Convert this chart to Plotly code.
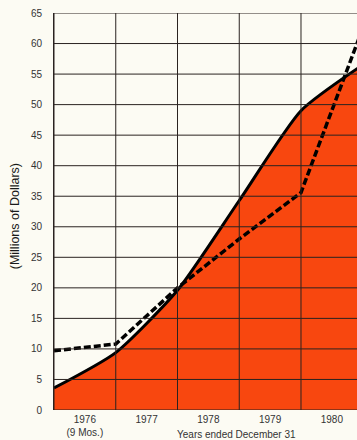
import plotly.graph_objects as go

# Year-end positions (0 = start of 1976 period, 1..5 = Dec 31 of 1976..1980)
year_ends = [0, 1, 2, 3, 4, 5]
revenue = [3.6, 9.4, 19.6, 34.3, 49.0, 56.5]       # solid line, filled area
comparison = [9.7, 10.8, 20.0, 28.0, 35.6, 62.5]   # dashed line

year_labels = ["1976<br>(9 Mos.)", "1977", "1978", "1979", "1980"]
label_pos = [0.5, 1.5, 2.5, 3.5, 4.5]
y_ticks = list(range(0, 70, 5))

FILL = "#F8470F"
BG = "#FCFBF3"
GRID = "#2a2320"
FONT = "Liberation Sans, Arial, sans-serif"

fig = go.Figure()

fig.add_trace(go.Scatter(
    x=year_ends, y=revenue, mode="lines",
    line=dict(color="black", width=3, shape="spline", smoothing=0.6),
    fill="tozeroy", fillcolor=FILL, hoverinfo="skip", showlegend=False,
))
fig.add_trace(go.Scatter(
    x=year_ends, y=comparison, mode="lines",
    line=dict(color="black", width=3.5, dash="7px,3px"),
    hoverinfo="skip", showlegend=False,
))

# grid drawn on top of the filled area
shapes = []
for v in y_ticks:
    shapes.append(dict(type="line", xref="x", yref="y", x0=0, x1=6, y0=v, y1=v,
                       line=dict(color=GRID, width=1), layer="above"))
for xv in year_ends:
    shapes.append(dict(type="line", xref="x", yref="y", x0=xv, x1=xv, y0=0, y1=65,
                       line=dict(color=GRID, width=1), layer="above"))

fig.update_layout(
    width=357, height=440,
    margin=dict(l=54, r=0, t=13, b=30),
    paper_bgcolor=BG, plot_bgcolor=BG,
    shapes=shapes,
    xaxis=dict(range=[0, 4.907], showgrid=False, zeroline=False,
               tickvals=label_pos, ticktext=year_labels, ticks="",
               tickfont=dict(family=FONT, size=10, color="#333"),
               ticklabelstandoff=2, showline=False),
    yaxis=dict(range=[0, 65], showgrid=False, zeroline=False,
               tickvals=y_ticks, ticks="",
               tickfont=dict(family=FONT, size=10, color="#333"),
               ticklabelstandoff=9, showline=True, linecolor=GRID, linewidth=1),
    annotations=[
        dict(text="(Millions of Dollars)", xref="paper", yref="paper",
             x=0, y=0.488, xshift=-39, textangle=-90, showarrow=False,
             xanchor="center", yanchor="middle",
             font=dict(family=FONT, size=12.5, color="#1a1a1a")),
        dict(text="Years ended December 31", xref="x", yref="paper",
             x=2.95, y=0, yshift=-24, showarrow=False,
             xanchor="center", yanchor="middle",
             font=dict(family=FONT, size=10, color="#333")),
    ],
)

fig.write_html("out.html")
